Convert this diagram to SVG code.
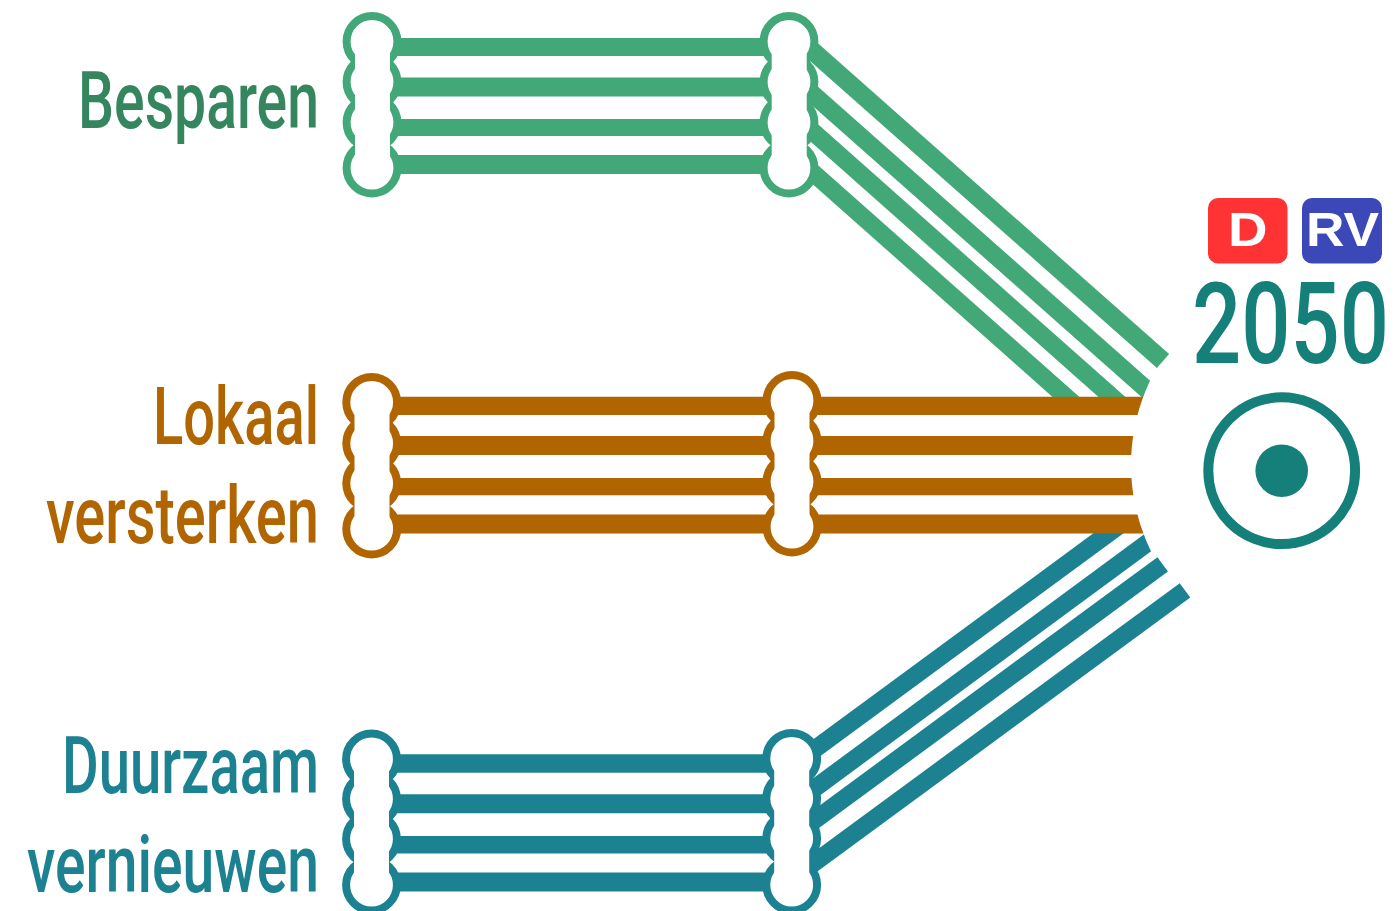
<svg xmlns="http://www.w3.org/2000/svg" width="1395" height="911" viewBox="0 0 1395 911">
<style>
.c{fill:none;stroke-linecap:butt}
.n circle{fill:#fff;stroke-width:8}
.n rect{fill:#fff;stroke:none;width:35px}
.g{stroke:#43a878}.b{stroke:#b06500}.t{stroke:#1c8292}
.l{font-family:Roboto,"Liberation Sans",sans-serif;font-size:80px;font-weight:500;text-anchor:start}
.bt{font-family:"Liberation Sans",Arial,sans-serif;font-weight:700;font-size:48px;fill:#fff}
</style>
<defs>
<clipPath id="arc"><path clip-rule="evenodd" d="M0 0H1395V911H0ZM1327 269a196 196 0 1 0 0 392a196 196 0 1 0 0-392Z"/></clipPath>
</defs>
<g id="connectors" class="c">
<g class="g">
<path stroke-width="18" d="M372 47H789"/><path stroke-width="19" d="M372 87H789"/><path stroke-width="17" d="M372 127.4H789"/><path stroke-width="19" d="M372 164.5H789"/>
<path stroke-width="18.4" d="M789 30L1163 361"/>
<path stroke-width="17.8" d="M789 73L1190 428" clip-path="url(#arc)"/>
<path stroke-width="17.8" d="M789 110.5L1121 405"/>
<path stroke-width="17.8" d="M789 151.3L1075 405"/>
</g>
<g class="t">
<path stroke-width="18.4" d="M371 763.5H792"/><path stroke-width="19" d="M371 803.8H792"/><path stroke-width="17.4" d="M371 844.7H792"/><path stroke-width="19" d="M371 882H792"/>
<path stroke-width="17.8" d="M792 765.9L1119 525.5"/>
<path stroke-width="17.8" d="M792 805L1190 511.5" clip-path="url(#arc)"/>
<path stroke-width="17.8" d="M792 836.8L1162.7 564.3"/>
<path stroke-width="17.8" d="M792 879.2L1185 590.3"/>
</g>
<g class="b" clip-path="url(#arc)">
<path stroke-width="18.3" d="M372 405.8H1200"/><path stroke-width="19" d="M372 445.5H1200"/><path stroke-width="17.3" d="M372 486.7H1200"/><path stroke-width="19" d="M372 524H1200"/>
</g>
</g>
<g id="node-besparen-a" class="n g"><circle cx="372" cy="41.5" r="25.4"/><circle cx="372" cy="82" r="25.4"/><circle cx="372" cy="122.5" r="25.4"/><circle cx="372" cy="168" r="25.4"/><rect x="355" y="41.5" height="126.5"/></g>
<g id="node-besparen-b" class="n g"><circle cx="789" cy="41.5" r="25.4"/><circle cx="789" cy="82" r="25.4"/><circle cx="789" cy="122.5" r="25.4"/><circle cx="789" cy="168" r="25.4"/><rect x="771.7" y="41.5" height="126.5"/></g>
<g id="node-lokaal-a" class="n b"><circle cx="371.7" cy="402.3" r="25.4"/><circle cx="371.7" cy="443.3" r="25.4"/><circle cx="371.7" cy="483.3" r="25.4"/><circle cx="371.7" cy="529" r="25.4"/><rect x="354.5" y="402.3" height="126.7"/></g>
<g id="node-lokaal-b" class="n b"><circle cx="792" cy="400.5" r="25.4"/><circle cx="792" cy="441" r="25.4"/><circle cx="792" cy="481.5" r="25.4"/><circle cx="792" cy="527" r="25.4"/><rect x="774.5" y="400.5" height="126.5"/></g>
<g id="node-duurzaam-a" class="n t"><circle cx="371.5" cy="759" r="25.4"/><circle cx="371.5" cy="799" r="25.4"/><circle cx="371.5" cy="839" r="25.4"/><circle cx="371.5" cy="885" r="25.4"/><rect x="354" y="759" height="126"/></g>
<g id="node-duurzaam-b" class="n t"><circle cx="791.7" cy="758.3" r="25.4"/><circle cx="791.7" cy="798.3" r="25.4"/><circle cx="791.7" cy="838.3" r="25.4"/><circle cx="791.7" cy="885" r="25.4"/><rect x="774.2" y="758.3" height="126.7"/></g>
<g id="label-besparen"><text class="l" x="78" y="127.5" fill="#35865f" textLength="241" lengthAdjust="spacingAndGlyphs">Besparen</text></g>
<g id="label-lokaal"><text class="l" x="153" y="444" fill="#b06500" textLength="166" lengthAdjust="spacingAndGlyphs">Lokaal</text><text class="l" x="46" y="543" fill="#b06500" textLength="273" lengthAdjust="spacingAndGlyphs">versterken</text></g>
<g id="label-duurzaam"><text class="l" x="62" y="793" fill="#1c8292" textLength="257" lengthAdjust="spacingAndGlyphs">Duurzaam</text><text class="l" x="27" y="892" fill="#1c8292" textLength="292" lengthAdjust="spacingAndGlyphs">vernieuwen</text></g>
<g id="badge-d"><rect x="1208" y="198" width="79.5" height="65.5" rx="10" fill="#ff3333"/><text class="bt" x="1228" y="245.7" textLength="39.5" lengthAdjust="spacingAndGlyphs">D</text></g>
<g id="badge-rv"><rect x="1302" y="198" width="80" height="65.5" rx="10" fill="#3d48b8"/><text class="bt" x="1306" y="245.7" textLength="73" lengthAdjust="spacingAndGlyphs">RV</text></g>
<g id="label-2050"><text transform="translate(1192 363) scale(.776 1)" font-family="Roboto,'Liberation Sans',sans-serif" font-weight="500" font-size="113" fill="#157f7a" textLength="253.8" lengthAdjust="spacingAndGlyphs">2050</text></g>
<g id="target"><circle cx="1281.7" cy="470.7" r="73.4" fill="#fff" stroke="#157f7a" stroke-width="10"/><circle cx="1281.7" cy="470.7" r="26.3" fill="#157f7a"/></g>
</svg>
